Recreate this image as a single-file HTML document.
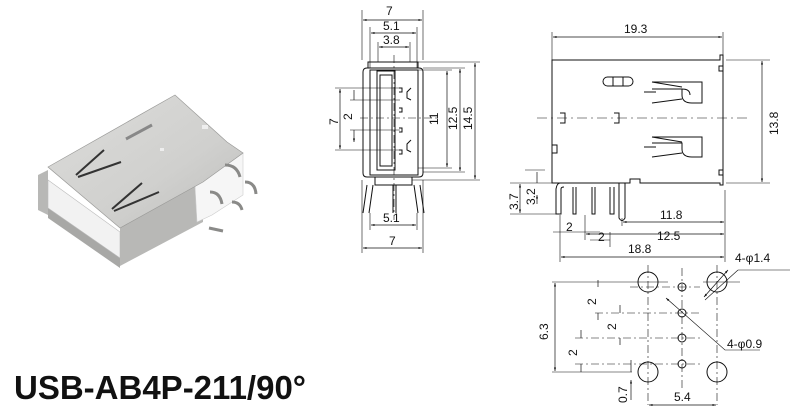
<!DOCTYPE html>
<html><head><meta charset="utf-8"><style>
body{margin:0;background:#fff;width:800px;height:420px;overflow:hidden}
svg{display:block}
text{font-family:"Liberation Sans",Arial,sans-serif;fill:#111}
</style></head><body>
<svg width="800" height="420" viewBox="0 0 800 420" xmlns="http://www.w3.org/2000/svg">
<defs>
<marker id="a" viewBox="0 0 10 10" refX="10" refY="5" markerWidth="7" markerHeight="5" orient="auto-start-reverse"><path d="M0,2 L10,5 L0,8z" fill="#111"/></marker>
<linearGradient id="m" x1="0" y1="0" x2="1" y2="1"><stop offset="0" stop-color="#dcdcda"/><stop offset="0.6" stop-color="#d0d0ce"/><stop offset="1" stop-color="#bdbdbb"/></linearGradient>
</defs>
<!-- photo -->
<g>
<polygon points="38,175 48,170 48,215 38,210" fill="#b8b8b6"/>
<polygon points="48,205 120,255 120,268 48,218" fill="#a8a8a6"/>
<polygon points="48,180 120,232 120,258 48,208" fill="#f2f2f2" stroke="#bbb" stroke-width="0.6"/>
<polygon points="120,228 203,182 203,222 120,266" fill="#b8b8b6"/>
<polygon points="195,186 243,153 243,195 212,215 197,222" fill="#f6f6f6" stroke="#ccc" stroke-width="0.6"/>
<polygon points="48,167 175,95 227,142 243,153 203,182 120,228" fill="url(#m)" stroke="#9a9a98" stroke-width="0.7"/>
<path d="M76,175 L104,150 M78,177 L121,162 M112,209 L142,183 M114,211 L159,192" stroke="#333" stroke-width="2" fill="none"/>
<path d="M126,139 L152,125" stroke="#888" stroke-width="3"/>
<rect x="160" y="148" width="4" height="3" fill="#eee"/>
<rect x="202" y="125" width="6" height="4" fill="#eee"/>
<path d="M225,165 q12,0 15,12 M210,192 q10,0 12,12 M245,182 q10,0 11,12 M232,202 q8,0 10,8 M209,228 l14,3" stroke="#8a8a88" stroke-width="3" fill="none"/>
</g>
<text x="14" y="399" font-size="33" font-weight="bold" fill="#111">USB-AB4P-211/90°</text>

<g stroke="#111" stroke-width="1" fill="none">
<!-- middle view -->
<path d="M368,68 V62 h50 v6 M363,72 q0,-4 4,-4 h52 q4,0 4,4 V173 q0,4 -4,4 h-52 q-4,0 -4,-4z"/>
<rect x="370" y="70" width="48" height="105"/>
<rect x="377" y="71" width="18" height="99"/>
<rect x="380" y="75" width="12" height="91"/>
<path d="M375,177 v8 h37 v-8"/>
<path d="M367,185 l-4,28 M373,185 l-4,28 M414,185 l4,28 M420,185 l4,28"/>
<path d="M393,185 v28 M396,185 v28" />
<path d="M399,88 h3 v4 h-3 M399,108 h3 v4 h-3 M399,128 h3 v4 h-3 M399,150 h3 v4 h-3"/>
<path d="M411,88 l-4,4 v6 l4,2 M411,140 l-4,4 v6 l4,2"/>
<g stroke-width="0.6">
<path d="M362,10 V60 M423,10 V60 M370,27 V68 M417,27 V68 M378,42 V62 M410,42 V62"/>
<path d="M418,62 H480 M423,68 H465 M418,70 H452 M418,168 H452 M423,172 H465 M412,180 H480"/>
<path d="M335,88 H400 M335,150 H400 M350,100 H400 M350,130 H400"/>
<path d="M362,180 V253 M423,180 V253 M370,213 V230 M417,213 V230"/>
<path d="M360,118 H440" stroke-dasharray="8,3,2,3"/>
<path d="M394,55 V220" stroke-dasharray="8,3,2,3"/>
</g>
<g stroke-width="0.7" marker-start="url(#a)" marker-end="url(#a)">
<path d="M363,20 H422"/><path d="M371,33 H416"/><path d="M379,47 H409"/>
<path d="M447,71 V167"/><path d="M460,69 V171"/><path d="M475,63 V179"/>
<path d="M340,89 V149"/>
<path d="M371,225 H416"/><path d="M363,248 H422"/>
</g>
<path d="M354,90 V100 M354,130 V142" stroke-width="0.7" marker-end="url(#a)"/>

<!-- right view -->
<path d="M552,60 H720 V55 h3 V66 h-4 v5 h4 V170 h-4 v5 h4 v10 h-3 v-2 H640 v-4 h-10 v4 H552z"/>
<path d="M723,66 V175" />
<rect x="603" y="77" width="30" height="9" rx="4.5"/><path d="M613,77 v9 M623,77 v9"/>
<path d="M652,82 h50 v21 h-10 q-10,0 -10,-8 v-6 h-30 M652,82 l30,5 M652,103 l30,-4 M682,89 q8,0 8,6 M644,92 h12"/>
<path d="M652,137 h50 v20 h-10 q-10,0 -10,-8 v-6 h-30 M652,137 l30,5 M652,157 l30,-4 M644,147 h12"/>
<path d="M560,113 h5 v10 h-5 M614,113 h5 v10 h-5 M552,145 h5 v8 h-5"/>
<path d="M560,183 q-3,0 -4,6 V214 h5 V189 q0,-2 3,-2 M573,187 v27 h3 v-27 M592,187 v27 h3 v-27 M610,187 v27 h4 v-27 M619,183 v35 q3,5 6,0 v-35"/>
<g stroke-width="0.6">
<path d="M537,118 H748" stroke-dasharray="10,4,2,4"/>
<path d="M552,32 V60 M723,32 V55 M726,60 H770 M726,183 H770"/>
<path d="M510,183 H552 M510,214 H560 M525,170 H545"/>
<path d="M725,190 V262 M622,218 V226 M560,215 V262 M585,215 V240"/>
<path d="M553,232 H575 M575,232 H600 M590,240 H610 M610,232 v15"/>
</g>
<g stroke-width="0.7" marker-start="url(#a)" marker-end="url(#a)">
<path d="M553,37 H722"/><path d="M762,61 V182"/>
<path d="M623,222 H724"/><path d="M586,234 H724"/><path d="M561,257 H724"/>
<path d="M520,184 V213"/>
</g>
<path d="M537,172 V183 M537,204 V195" stroke-width="0.7" marker-end="url(#a)"/>

<!-- footprint -->
<circle cx="648" cy="282" r="10"/><circle cx="717" cy="282" r="10"/>
<circle cx="648" cy="372" r="10"/><circle cx="717" cy="372" r="10"/>
<circle cx="682" cy="287" r="4"/><circle cx="682" cy="313" r="4"/><circle cx="682" cy="338" r="4"/><circle cx="682" cy="364" r="4"/>
<g stroke-width="0.6" stroke-dasharray="8,3,2,3">
<path d="M682,268 V390 M648,265 V405 M717,265 V405"/>
<path d="M630,287 H700 M595,313 H700 M575,338 H700 M575,364 H700"/>
</g>
<g stroke-width="0.6">
<path d="M552,282 H668 M552,372 H632 M703,282 h37"/>
<path d="M738,270 H790 M738,270 L705,300"/>
<path d="M674,305 L725,350 H760"/>
</g>
<g stroke-width="0.7" marker-start="url(#a)" marker-end="url(#a)">
<path d="M555,283 V371"/><path d="M649,405 H716"/><path d="M728,270 L704,297"/>
</g>
<path d="M598,280 V287 M598,320 V313 M620,305 V313 M620,345 V338 M581,330 V338 M581,372 V364 M631,360 V372 M631,400 V380" stroke-width="0.7" marker-end="url(#a)"/>
<path d="M674,305 l-8,-7" stroke-width="0.7" marker-end="url(#a)"/>
</g>

<g font-size="12">
<text x="386" y="15">7</text>
<text x="383" y="30">5.1</text>
<text x="383" y="44">3.8</text>
<text x="383" y="222">5.1</text>
<text x="389" y="245">7</text>
<text transform="translate(438,125) rotate(-90)">11</text>
<text transform="translate(457,130) rotate(-90)">12.5</text>
<text transform="translate(472,130) rotate(-90)">14.5</text>
<text transform="translate(352,120) rotate(-90)">2</text>
<text transform="translate(338,125) rotate(-90)">7</text>
<text x="624" y="33">19.3</text>
<text transform="translate(778,135) rotate(-90)">13.8</text>
<text transform="translate(518,210) rotate(-90)">3.7</text>
<text transform="translate(535,205) rotate(-90)">3.2</text>
<text x="660" y="219">11.8</text>
<text x="657" y="240">12.5</text>
<text x="628" y="253">18.8</text>
<text x="566" y="231">2</text>
<text x="598" y="241">2</text>
<text x="735" y="262">4-φ1.4</text>
<text x="727" y="348">4-φ0.9</text>
<text transform="translate(548,340) rotate(-90)">6.3</text>
<text transform="translate(596,305) rotate(-90)">2</text>
<text transform="translate(616,330) rotate(-90)">2</text>
<text transform="translate(577,356) rotate(-90)">2</text>
<text transform="translate(627,403) rotate(-90)">0.7</text>
<text x="674" y="401">5.4</text>
</g>
</svg>
</body></html>
